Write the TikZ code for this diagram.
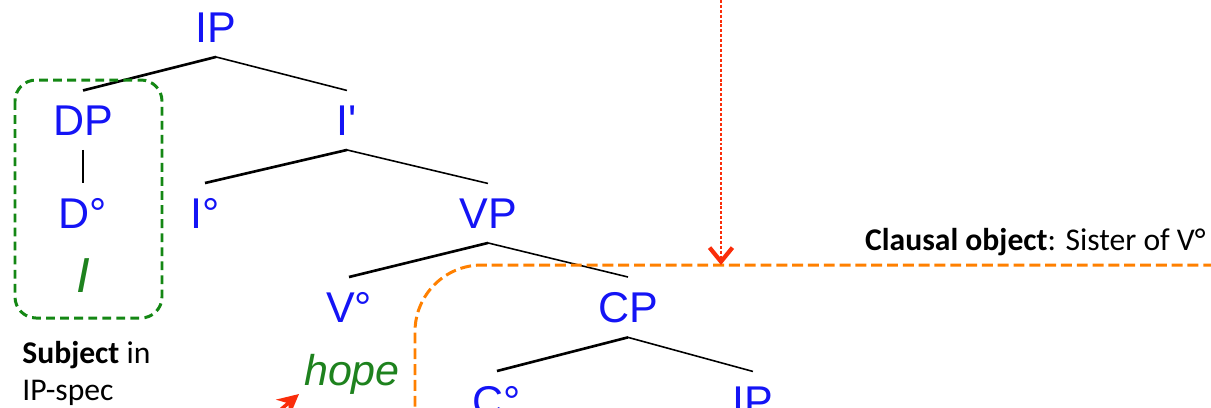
\documentclass[tikz,border=0pt]{standalone}
\usepackage{fontspec}
\newfontfamily\treefont{Liberation Sans}
\newfontfamily\notefont{Carlito}
\usetikzlibrary{arrows.meta}
\definecolor{catblue}{RGB}{20,20,245}
\definecolor{wordgreen}{RGB}{30,130,30}
\definecolor{boxgreen}{RGB}{20,135,20}
\definecolor{objorange}{RGB}{255,128,0}
\definecolor{arrowred}{RGB}{250,45,10}
\tikzset{
    cat/.style={
        font=\treefont\fontsize{24.5}{28}\selectfont,
        text=catblue,
        inner sep=0pt,
        outer sep=8.5pt,
        anchor=base,
    },
    word/.style={
        font=\treefont\itshape\fontsize{24.5}{28}\selectfont,
        text=wordgreen,
        inner sep=0pt,
        anchor=base,
    },
    note/.style={
        font=\notefont\fontsize{18}{22}\selectfont,
        inner sep=0pt,
    },
    thickbranch/.style={
        draw,
        line width=1.5pt,
    },
    thinbranch/.style={
        draw,
        line width=0.9pt,
    },
    subjbox/.style={
        draw=boxgreen,
        line width=1.7pt,
        dash pattern=on 5pt off 3pt,
        rounded corners=12pt,
    },
    clausebox/.style={
        draw=objorange,
        line width=1.7pt,
        dash pattern=on 6.2pt off 2.8pt,
        rounded corners=38pt,
    },
    pointer/.style={
        draw=arrowred,
        line width=1.1pt,
        dash pattern=on 1.7pt off 1.1pt,
        -{Straight Barb[length=8pt,width=13pt,line width=2.4pt]},
    },
    x=0.02cm,
    y=-0.02cm,
}
\begin{document}
\begin{tikzpicture}
    \clip (0,0) rectangle (1211,407);

    % the tree
    \node [cat] (IP) at (216,42) {IP};
    \node [cat] (DP) at (83,135) {DP};
    \node [cat] (D) at (83,228) {D°};
    \node [word, font=\treefont\itshape\fontsize{28}{32}\selectfont] (I) at (83,292) {I};
    \node [cat] (Ibar) at (347,135) {I\textquotesingle};
    \node [cat] (Ihead) at (205,228) {I°};
    \node [cat] (VP) at (488,228) {VP};
    \node [cat] (V) at (349,322) {V°};
    \node [word] (hope) at (352,385) {hope};
    \node [cat] (CP) at (628,322) {CP};
    \node [cat] (C) at (497,416) {C°};
    \node [cat] (IPlow) at (753,416) {IP};

    \draw [thickbranch] (IP.south) -- (DP.north);
    \draw [thinbranch] (IP.south) -- (Ibar.north);
    \draw [thinbranch] (DP) -- (D);
    \draw [thickbranch] (Ibar.south) -- (Ihead.north);
    \draw [thinbranch] (Ibar.south) -- (VP.north);
    \draw [thickbranch] (VP.south) -- (V.north);
    \draw [thinbranch] (VP.south) -- (CP.north);
    \draw [thickbranch] (CP.south) -- (C.north);
    \draw [thinbranch] (CP.south) -- (IPlow.north);

    % subject
    \draw [subjbox] (15,80) rectangle (162,318);
    \node [note, anchor=base west] (subjnote) at (22,363) {\textbf{Subject} in};
    \node [note, anchor=base west] (subjnoteb) at (22,400) {IP-spec};

    % clausal object
    \draw [clausebox] (1230,265) -- (415,265) -- (415,430);
    \node [note, anchor=base east] (objnote) at (1206,250) {\textbf{Clausal object}: Sister of V°};
    \coordinate (objtail) at (721,-10);
    \coordinate (objtip) at (721,265);
    \draw [pointer] (objtail) -- (objtip);

    \coordinate (hopetail) at (245,440);
    \coordinate (hopetip) at (299,394);
    \draw [arrowred, line width=2pt, -{Stealth[length=12pt,width=12pt]}] (hopetail) -- (hopetip);
\end{tikzpicture}
\end{document}
